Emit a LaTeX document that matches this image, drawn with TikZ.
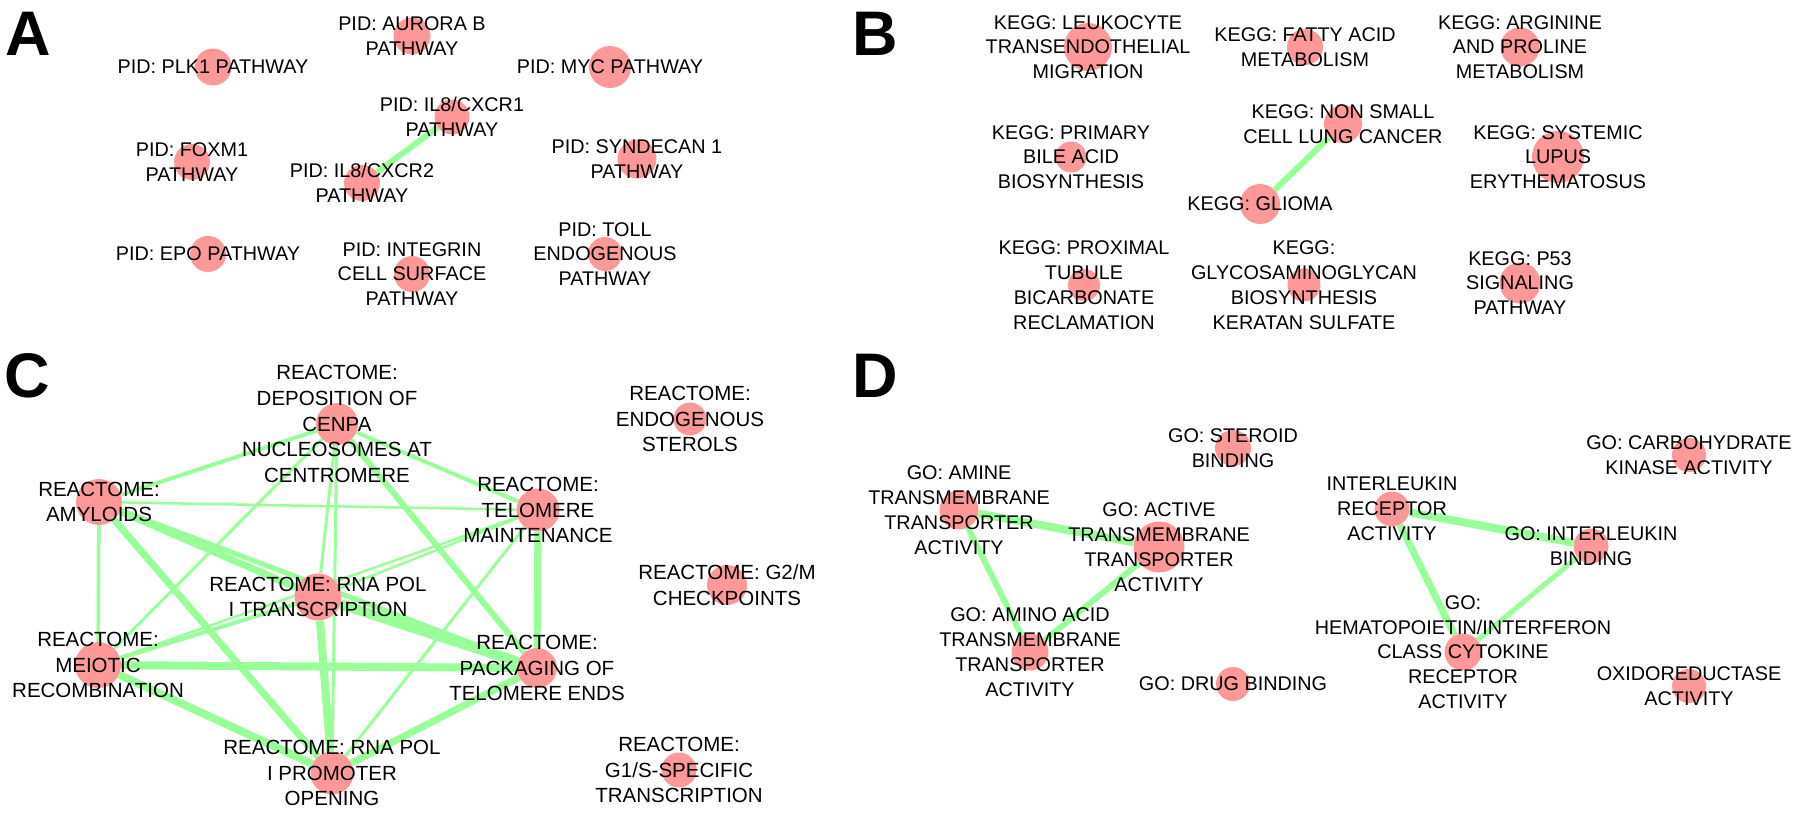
\documentclass[tikz,border=0pt]{standalone}
\usepackage{fontspec}
\setmainfont{Liberation Sans}
\usetikzlibrary{backgrounds}
\definecolor{hitred}{RGB}{255,153,153}
\definecolor{simgreen}{RGB}{153,255,153}
\tikzset{
  hit/.style = {circle, fill=hitred, inner sep=0pt, minimum size=#1},
  term/.style = {align=center, inner sep=0pt, font=\fontsize{19.8}{24.8}\selectfont},
  termc/.style = {align=center, inner sep=0pt, font=\fontsize{20.5}{25.8}\selectfont},
  sim/.style = {draw=simgreen, line width=#1},
  panel/.style = {anchor=base west, inner sep=0pt, font=\fontsize{63}{63}\selectfont\bfseries}
}

\begin{document}
\begin{tikzpicture}[x=1pt,y=-1pt]
  \useasboundingbox (0,0) rectangle (1800,814);
  \node[panel] (la) at (5,55) {A};
  \node[panel] (lb) at (852,55) {B};
  \node[panel] (lc) at (4,397) {C};
  \node[panel] (ld) at (852,397) {D};

  % A: PID
  \node[hit=37, label={[term]center:{PID: PLK1 PATHWAY}}] (plk) at (213,67) {};
  \node[hit=37, label={[term]center:{PID: AURORA B\\PATHWAY}}] (aur) at (412,36) {};
  \node[hit=42, label={[term]center:{PID: MYC PATHWAY}}] (myc) at (610,67) {};
  \node[hit=35, label={[term]center:{PID: IL8/CXCR1\\PATHWAY}}] (cxcr1) at (452,117) {};
  \node[hit=36, label={[term]center:{PID: FOXM1\\PATHWAY}}] (foxm) at (192,162) {};
  \node[hit=36, label={[term]center:{PID: IL8/CXCR2\\PATHWAY}}] (cxcr2) at (362,183) {};
  \node[hit=39, label={[term]center:{PID: SYNDECAN 1\\PATHWAY}}] (synd) at (637,159) {};
  \node[hit=36, label={[term]center:{PID: EPO PATHWAY}}] (epo) at (208,254) {};
  \node[hit=36, label={[term]center:{PID: INTEGRIN\\CELL SURFACE\\PATHWAY}}] (integ) at (412,274) {};
  \node[hit=34, label={[term]center:{PID: TOLL\\ENDOGENOUS\\PATHWAY}}] (toll) at (605,254) {};

  % B: KEGG
  \node[hit=48, label={[term]center:{KEGG: LEUKOCYTE\\TRANSENDOTHELIAL\\MIGRATION}}] (leuk) at (1088,47) {};
  \node[hit=36, label={[term]center:{KEGG: FATTY ACID\\METABOLISM}}] (fatty) at (1305,47) {};
  \node[hit=39, label={[term]center:{KEGG: ARGININE\\AND PROLINE\\METABOLISM}}] (argin) at (1520,47) {};
  \node[hit=31, label={[term]center:{KEGG: PRIMARY\\BILE ACID\\BIOSYNTHESIS}}] (bile) at (1071,157) {};
  \node[hit=38, label={[term]center:{KEGG: NON SMALL\\CELL LUNG CANCER}}] (nsclc) at (1343,124) {};
  \node[hit=52, label={[term]center:{KEGG: SYSTEMIC\\LUPUS\\ERYTHEMATOSUS}}] (lupus) at (1558,157) {};
  \node[hit=40, label={[term]center:{KEGG: GLIOMA}}] (glioma) at (1260,204) {};
  \node[hit=32, label={[term]center:{KEGG: PROXIMAL\\TUBULE\\BICARBONATE\\RECLAMATION}}] (tubule) at (1084,285) {};
  \node[hit=33, label={[term]center:{KEGG:\\GLYCOSAMINOGLYCAN\\BIOSYNTHESIS\\KERATAN SULFATE}}] (keratan) at (1304,285) {};
  \node[hit=41, label={[term]center:{KEGG: P53\\SIGNALING\\PATHWAY}}] (ptf) at (1520,283) {};

  % C: REACTOME
  \node[hit=42, label={[termc]center:{REACTOME:\\DEPOSITION OF\\CENPA\\NUCLEOSOMES AT\\CENTROMERE}}] (cenpa) at (337,424) {};
  \node[hit=46, label={[termc]center:{REACTOME:\\AMYLOIDS}}] (amyl) at (99,502) {};
  \node[hit=43, label={[termc]center:{REACTOME:\\TELOMERE\\MAINTENANCE}}] (telm) at (538,510) {};
  \node[hit=47, label={[termc]center:{REACTOME: RNA POL\\I TRANSCRIPTION}}] (rnat) at (318,597) {};
  \node[hit=46, label={[termc]center:{REACTOME:\\MEIOTIC\\RECOMBINATION}}] (meio) at (98,665) {};
  \node[hit=40, label={[termc]center:{REACTOME:\\PACKAGING OF\\TELOMERE ENDS}}] (pack) at (537,668) {};
  \node[hit=43, label={[termc]center:{REACTOME: RNA POL\\I PROMOTER\\OPENING}}] (prom) at (332,773) {};
  \node[hit=33, label={[termc]center:{REACTOME:\\ENDOGENOUS\\STEROLS}}] (sterol) at (690,419) {};
  \node[hit=40, label={[termc]center:{REACTOME: G2/M\\CHECKPOINTS}}] (gtwom) at (727,585) {};
  \node[hit=35, label={[termc]center:{REACTOME:\\G1/S-SPECIFIC\\TRANSCRIPTION}}] (gones) at (679,770) {};

  % D: GO
  \node[hit=36, label={[term]center:{GO: STEROID\\BINDING}}] (sbind) at (1233,448) {};
  \node[hit=39, label={[term]center:{GO: AMINE\\TRANSMEMBRANE\\TRANSPORTER\\ACTIVITY}}] (amine) at (959,510) {};
  \node[hit=51, label={[term]center:{GO: ACTIVE\\TRANSMEMBRANE\\TRANSPORTER\\ACTIVITY}}] (active) at (1159,547) {};
  \node[hit=37, label={[term]center:{GO: AMINO ACID\\TRANSMEMBRANE\\TRANSPORTER\\ACTIVITY}}] (amino) at (1030,652) {};
  \node[hit=34, label={[term]center:{GO: DRUG BINDING}}] (drug) at (1233,684) {};
  \node[hit=35, label={[term]center:{INTERLEUKIN\\RECEPTOR\\ACTIVITY}}] (ilrec) at (1392,509) {};
  \node[hit=35, label={[term]center:{GO: INTERLEUKIN\\BINDING}}] (ilbind) at (1591,546) {};
  \node[hit=37, label={[term]center:{GO:\\HEMATOPOIETIN/INTERFERON\\CLASS CYTOKINE\\RECEPTOR\\ACTIVITY}}] (hemat) at (1463,652) {};
  \node[hit=34, label={[term]center:{GO: CARBOHYDRATE\\KINASE ACTIVITY}}] (carb) at (1689,455) {};
  \node[hit=34, label={[term]center:{OXIDOREDUCTASE\\ACTIVITY}}] (oxido) at (1689,686) {};

  \begin{scope}[on background layer]
    \draw[sim=6] (cxcr1) -- (cxcr2);
    \draw[sim=6] (nsclc) -- (glioma);
    % reactome clique
    \draw[sim=4] (cenpa) -- (amyl);
    \draw[sim=4] (cenpa) -- (telm);
    \draw[sim=3] (cenpa) -- (meio);
    \draw[sim=3] (cenpa) -- (rnat);
    \draw[sim=3] (cenpa) -- (prom);
    \draw[sim=6] (cenpa) -- (pack);
    \draw[sim=2.5] (amyl) -- (telm);
    \draw[sim=7] (amyl) -- (rnat);
    \draw[sim=5] (amyl) -- (pack);
    \draw[sim=3.5] (amyl) -- (meio);
    \draw[sim=7] (amyl) -- (prom);
    \draw[sim=2.5] (telm) -- (rnat);
    \draw[sim=2.5] (telm) -- (meio);
    \draw[sim=3] (telm) -- (prom);
    \draw[sim=7] (telm) -- (pack);
    \draw[sim=10] (rnat) -- (pack);
    \draw[sim=8] (rnat) -- (prom);
    \draw[sim=4] (rnat) -- (meio);
    \draw[sim=8] (meio) -- (pack);
    \draw[sim=8] (meio) -- (prom);
    \draw[sim=7] (pack) -- (prom);
    % go
    \draw[sim=8] (amine) -- (active);
    \draw[sim=6] (amine) -- (amino);
    \draw[sim=6] (active) -- (amino);
    \draw[sim=8] (ilrec) -- (ilbind);
    \draw[sim=7] (ilrec) -- (hemat);
    \draw[sim=5] (ilbind) -- (hemat);
  \end{scope}
\end{tikzpicture}
\end{document}
